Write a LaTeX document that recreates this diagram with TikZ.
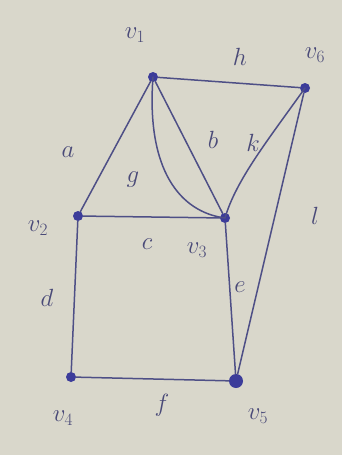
\documentclass[tikz,border=0pt]{standalone}
\begin{document}
\begin{tikzpicture}[x=1pt,y=-1pt,
  vtx/.style={circle,fill=dotc,inner sep=0pt,minimum size=10pt},
  edge/.style={draw=linec,line width=1.5pt,line cap=round},
  lbl/.style={text=txtc,font=\fontsize{24}{28}\selectfont}]
\definecolor{bgc}{HTML}{D9D7CB}
\definecolor{linec}{HTML}{4E4F86}
\definecolor{dotc}{HTML}{3C3C9A}
\definecolor{txtc}{HTML}{4A4A78}
\fill[bgc] (0,0) rectangle (342,455);
\useasboundingbox (0,0) rectangle (342,455);
\node[vtx] (v1) at (153,77) {};
\node[vtx] (v6) at (305,88) {};
\node[vtx] (v2) at (78,216) {};
\node[vtx] (v3) at (225,218) {};
\node[vtx] (v4) at (71,377) {};
\node[vtx,minimum size=14pt] (v5) at (236,381) {};
% edges
\draw[edge] (v1) -- (v6);
\draw[edge] (v1) -- (v2);
\draw[edge] (v1) -- (v3);
\draw[edge] (v1.center) .. controls (146,170) and (180,212) .. (v3.center);
\draw[edge] (v6.center) .. controls (268,140) and (236,180) .. (v3.center);
\draw[edge] (v6) -- (v5);
\draw[edge] (v2) -- (v3);
\draw[edge] (v2) -- (v4);
\draw[edge] (v3) -- (v5);
\draw[edge] (v4) -- (v5);
% vertex labels
\node[lbl] (l1) at (135,35) {$v_1$};
\node[lbl] (l6) at (315,55) {$v_6$};
\node[lbl] (l2) at (38,228) {$v_2$};
\node[lbl] (l3) at (197,250) {$v_3$};
\node[lbl] (l4) at (63,418) {$v_4$};
\node[lbl] (l5) at (258,416) {$v_5$};
% edge labels
\node[lbl] (eh) at (240,57) {$h$};
\node[lbl] (ea) at (68,152) {$a$};
\node[lbl] (eb) at (213,140) {$b$};
\node[lbl] (ek) at (253,143) {$k$};
\node[lbl] (eg) at (133,180) {$g$};
\node[lbl] (ec) at (147,244) {$c$};
\node[lbl] (ee) at (240,287) {$e$};
\node[lbl] (el) at (315,216) {$l$};
\node[lbl] (ed) at (47,298) {$d$};
\node[lbl] (ef) at (162,405) {$f$};
\end{tikzpicture}
\end{document}
